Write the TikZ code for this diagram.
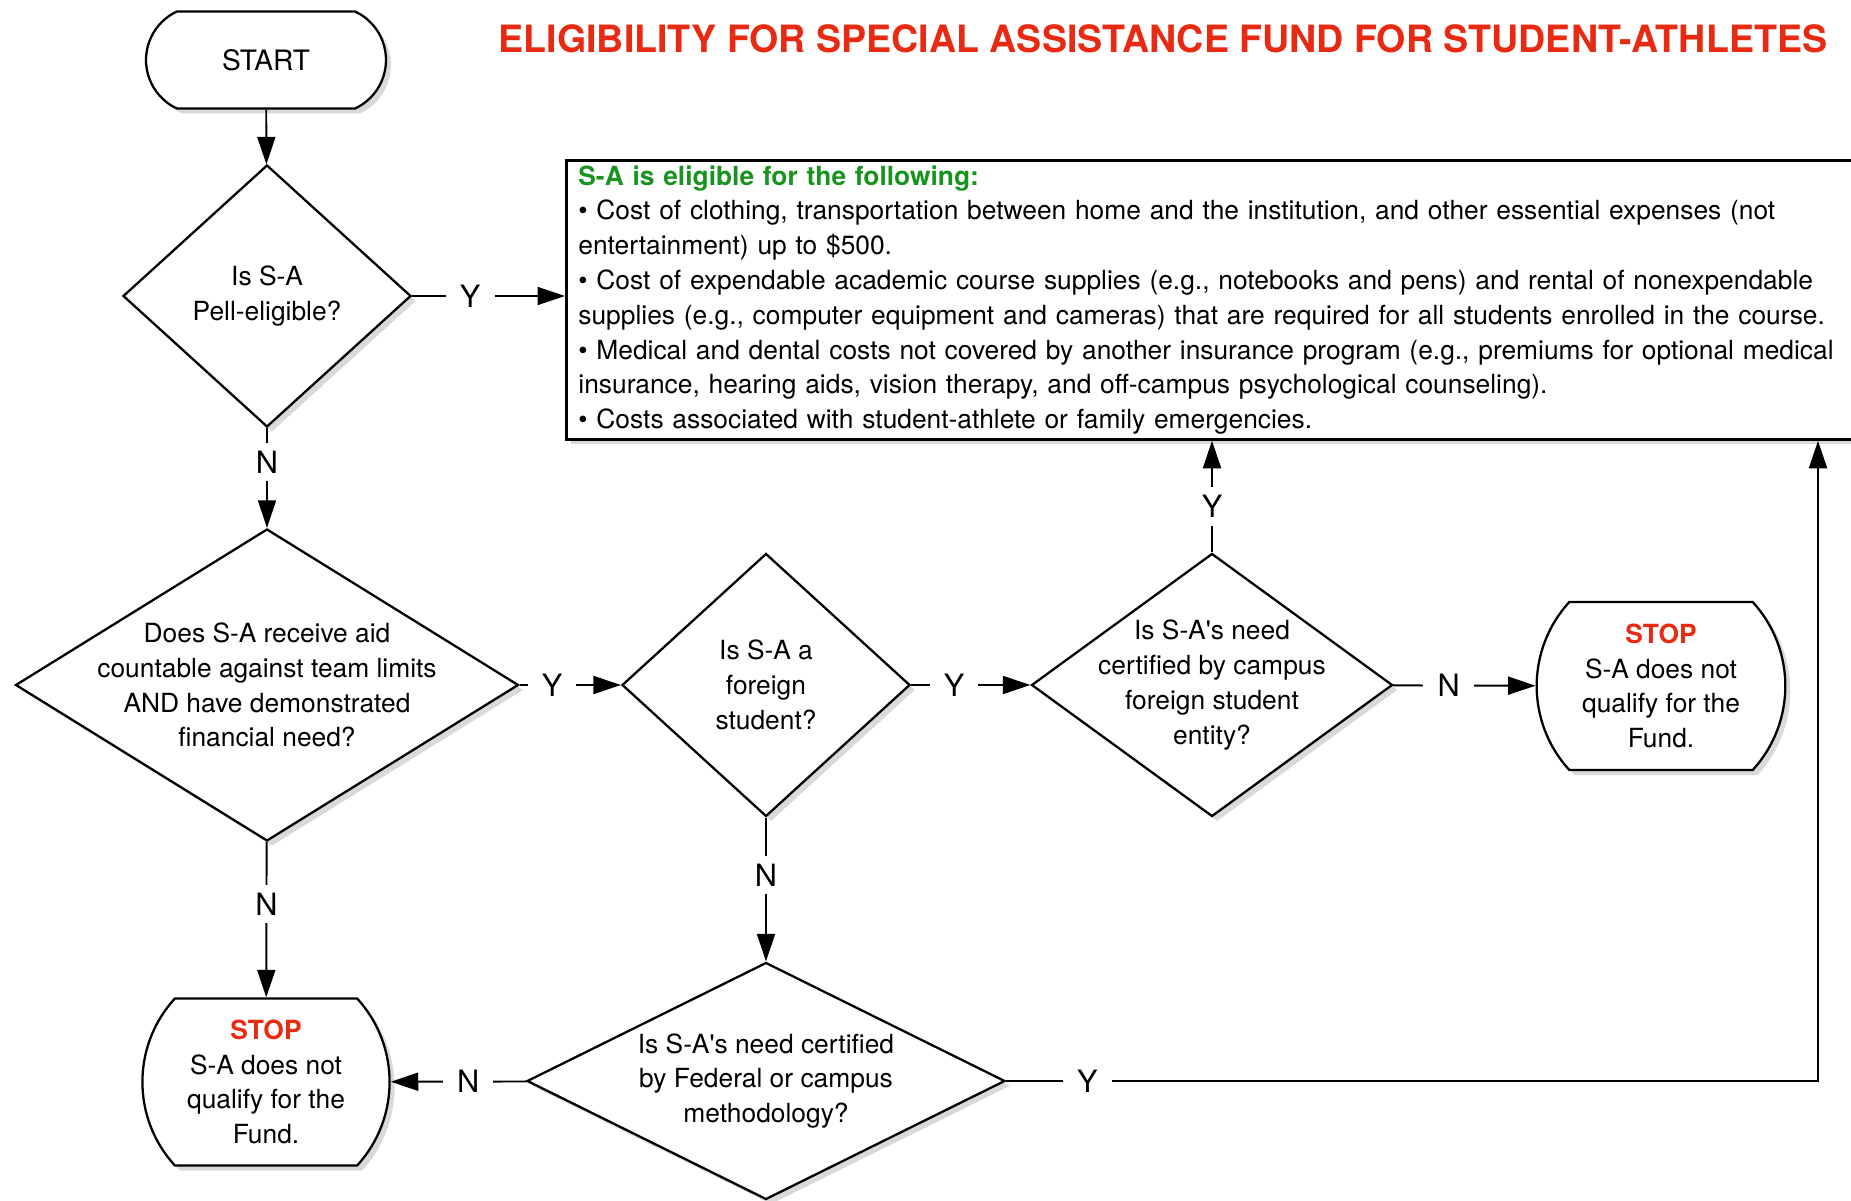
\documentclass[tikz,border=0pt]{standalone}
\usepackage{fontspec}
\setmainfont{TeX Gyre Heros}
\usetikzlibrary{shapes.geometric,shapes.misc,arrows.meta,shadows}
\definecolor{stopRed}{RGB}{232,42,18}
\definecolor{okGreen}{RGB}{24,148,30}
\newcommand{\flowfont}{\fontsize{15}{19.8}\selectfont}

\begin{document}
\begin{tikzpicture}
        [>={Triangle[length=0.55cm,width=0.36cm]},
        shade/.style={drop shadow={shadow xshift=0.1cm, shadow yshift=-0.1cm, opacity=0.3}},
        terminal/.style={rounded rectangle, rounded rectangle arc length=#1, draw, line width=1.3pt, fill=white, shade, inner xsep=0pt, align=center, font=\flowfont},
        decision/.style={diamond, draw, line width=1.3pt, fill=white, shade, inner sep=0pt},
        question/.style={align=center, font=\flowfont},
        infoBox/.style={rectangle, draw, line width=1.6pt, fill=white, shade, anchor=north west, align=left, text width=25.6cm, minimum height=5.54cm, inner xsep=0.24cm, inner ysep=0.1cm, font=\flowfont},
        edgeLabel/.style={fill=white, inner xsep=8pt, inner ysep=4.5pt, font=\fontsize{17.5}{20}\selectfont},
        line/.style={line width=1.1pt}]
        \useasboundingbox (0,0) rectangle (37.02,-24.02);

        \node[font=\fontsize{21.4}{25}\selectfont\bfseries, text=stopRed] (title) at (23.26,-0.78) {ELIGIBILITY FOR SPECIAL ASSISTANCE FUND FOR STUDENT-ATHLETES};

        \node[terminal=130, minimum width=4.8cm, minimum height=1.94cm, font=\fontsize{16}{19.8}\selectfont] (start) at (5.32,-1.20) {START};
        \node[decision, minimum width=5.76cm, minimum height=5.24cm, label={[question]center:{Is S-A\\Pell-eligible?}}] (pell) at (5.34,-5.92) {};
        \node[infoBox] (info) at (11.3,-3.18) {{\bfseries\color{okGreen}S-A is eligible for the following:}\\
        \textbullet{} Cost of clothing, transportation between home and the institution, and other essential expenses (not\\
        entertainment) up to \$500.\\
        \textbullet{} Cost of expendable academic course supplies (e.g., notebooks and pens) and rental of nonexpendable\\
        supplies (e.g., computer equipment and cameras) that are required for all students enrolled in the course.\\
        \textbullet{} Medical and dental costs not covered by another insurance program (e.g., premiums for optional medical\\
        insurance, hearing aids, vision therapy, and off-campus psychological counseling).\\
        \textbullet{} Costs associated with student-athlete or family emergencies.};

        \node[decision, minimum width=10.06cm, minimum height=6.24cm, label={[question]center:{Does S-A receive aid\\countable against team limits\\AND have demonstrated\\financial need?}}] (aid) at (5.34,-13.70) {};
        \node[decision, minimum width=5.76cm, minimum height=5.26cm, label={[question]center:{Is S-A a\\foreign\\student?}}] (foreign) at (15.32,-13.70) {};
        \node[decision, minimum width=7.22cm, minimum height=5.26cm, label={[question]center:{Is S-A\textquotesingle s need\\certified by campus\\foreign student\\entity?}}] (campus) at (24.24,-13.70) {};
        \node[terminal=85, minimum width=4.76cm, minimum height=3.36cm] (stopR) at (33.22,-13.72) {{\bfseries\color{stopRed}STOP}\\S-A does not\\qualify for the\\Fund.};
        \node[decision, minimum width=9.56cm, minimum height=4.74cm, label={[question]center:{Is S-A\textquotesingle s need certified\\by Federal or campus\\methodology?}}] (federal) at (15.32,-21.62) {};
        \node[terminal=85, minimum width=4.8cm, minimum height=3.34cm] (stopL) at (5.32,-21.64) {{\bfseries\color{stopRed}STOP}\\S-A does not\\qualify for the\\Fund.};
        \coordinate (bend) at (36.36,-21.62);

        \draw[line, ->] (start) -- (pell);
        \draw[line, ->] (pell) -- node[edgeLabel, pos=0.38] {Y} (pell.east -| info.west);
        \draw[line, ->] (pell) -- node[edgeLabel, pos=0.34] {N} (aid);
        \draw[line, ->] (aid) -- node[edgeLabel, pos=0.32] {Y} (foreign);%
        \draw[line, ->] (aid) -- node[edgeLabel, pos=0.40] {N} (stopL);
        \draw[line, ->] (foreign) -- node[edgeLabel, pos=0.36] {Y} (campus);
        \draw[line, ->] (foreign) -- node[edgeLabel, pos=0.40] {N} (federal);
        \draw[line, ->] (campus) -- node[edgeLabel, pos=0.41] {Y} (campus |- info.south);
        \draw[line, ->] (campus) -- node[edgeLabel, pos=0.39] {N} (stopR);
        \draw[line, ->] (federal) -- node[edgeLabel, pos=0.43] {N} (stopL);
        \draw[line, ->] (federal) -- node[edgeLabel, pos=0.10] {Y} (bend) -- (bend |- info.south);%back up to the list

    \end{tikzpicture}
\end{document}
